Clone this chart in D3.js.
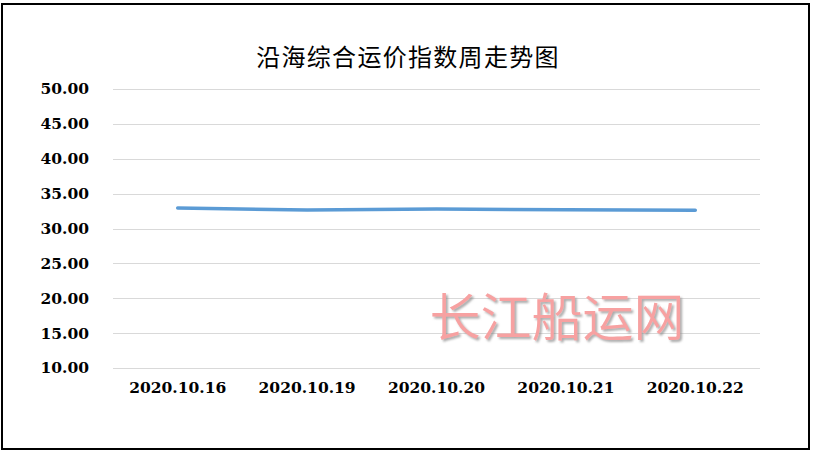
<!DOCTYPE html>
<html><head><meta charset="utf-8">
<script src="https://cdn.jsdelivr.net/npm/d3@7"></script>
<style>body{margin:0;background:#fff}svg{display:block}</style>
</head><body>
<svg id="c" width="815" height="458"></svg>
<script>
const title = "沿海综合运价指数周走势图";
const categories = ["2020.10.16","2020.10.19","2020.10.20","2020.10.21","2020.10.22"];
const values = [32.94, 32.66, 32.80, 32.69, 32.63];
const yTicks = [10,15,20,25,30,35,40,45,50];
const watermark = "长江船运网";

(function(){
const svg = d3.select("#c");
svg.append("rect").attr("x",0).attr("y",0).attr("width",815).attr("height",458).attr("fill","#fff");
svg.append("rect").attr("x",2).attr("y",4).attr("width",807).attr("height",445)
  .attr("fill","none").attr("stroke","#000").attr("stroke-width",2);

const pL=113, pR=760, pT=89, pB=368;
const x = d3.scaleBand().domain(categories).range([pL,pR]);
const y = d3.scaleLinear().domain([10,50]).range([pB,pT]);

svg.append("g").selectAll("line").data(yTicks).join("line")
  .attr("x1",pL).attr("x2",pR)
  .attr("y1",d=>Math.round(y(d))+0.5).attr("y2",d=>Math.round(y(d))+0.5)
  .attr("stroke","#d9d9d9").attr("stroke-width",1);

const yAxis = d3.axisLeft(y).tickValues(yTicks).tickFormat(d3.format(".2f")).tickSize(0).tickPadding(0);
const gy = svg.append("g").attr("transform",`translate(${89},0)`).call(yAxis);
gy.select(".domain").remove();
gy.selectAll("text").attr("font-family","DejaVu Serif").attr("font-weight","bold")
  .attr("font-size","15.5px").attr("fill","#000");

const xAxis = d3.axisBottom(x).tickSize(0).tickPadding(0);
const gx = svg.append("g").attr("transform",`translate(0,${382})`).call(xAxis);
gx.select(".domain").remove();
gx.selectAll("text").attr("font-family","DejaVu Serif").attr("font-weight","bold")
  .attr("font-size","15.5px").attr("fill","#000").attr("dy","0.71em");

const line = d3.line().x((d,i)=>x(categories[i])+x.bandwidth()/2).y(d=>y(d));
svg.append("path").datum(values).attr("d",line).attr("fill","none")
  .attr("stroke","#5b9bd5").attr("stroke-width",3.5).attr("stroke-linecap","round").attr("stroke-linejoin","round");

svg.append("text").attr("x",408).attr("y",66).attr("text-anchor","middle")
  .attr("font-family","Noto Sans CJK SC").attr("font-size","24px").attr("font-weight","400")
  .attr("fill","#000").attr("letter-spacing","1.3px").text(title);

const defs = svg.append("defs");
const f = defs.append("filter").attr("id","shadow").attr("x","-10%").attr("y","-20%").attr("width","120%").attr("height","150%");
f.append("feDropShadow").attr("dx",2).attr("dy",2).attr("stdDeviation",1.3)
  .attr("flood-color","#888").attr("flood-opacity",0.7);
svg.append("text").attr("x",557).attr("y",336).attr("text-anchor","middle")
  .attr("font-family","Noto Sans CJK SC").attr("font-size","51px").attr("font-weight","350")
  .attr("fill","#f7a1a1").attr("filter","url(#shadow)").text(watermark);
})();
</script>
</body></html>
